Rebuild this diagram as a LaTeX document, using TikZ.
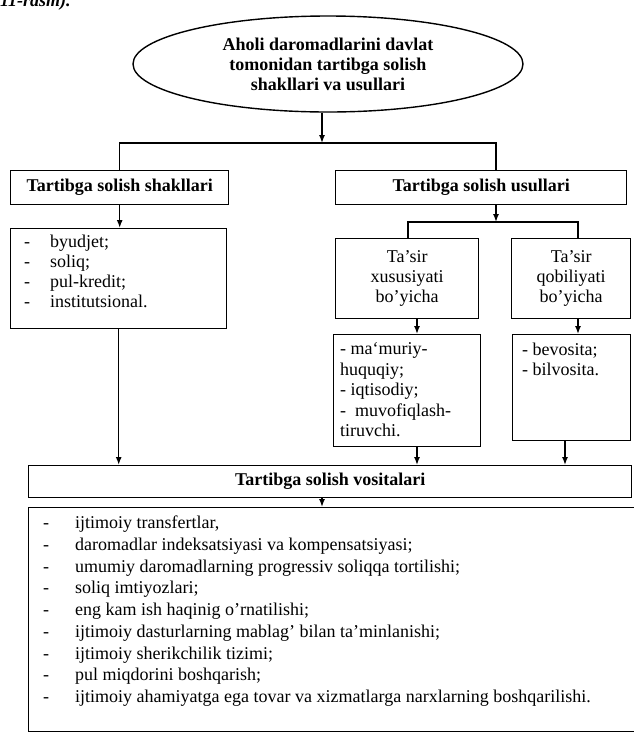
\documentclass[tikz,border=0pt]{standalone}
\usepackage{fontspec}
\setmainfont{Liberation Serif}
\usetikzlibrary{arrows.meta,shapes.geometric}

\newcommand{\kreska}[1]{\makebox[#1][l]{-}}

\begin{document}
\begin{tikzpicture}[x=1pt, y=-1pt,
    font=\fontsize{18}{20}\selectfont,
    ramka/.style={draw, line width=1.4pt, inner sep=0pt, anchor=north west},
    wykaz/.style={anchor=north west, align=left, inner sep=0pt},
    naglowek/.style={font=\bfseries\fontsize{18}{20}\selectfont},
    strz/.style={line width=1.4pt, -{Latex[length=8pt, width=6pt]}},
    linia/.style={line width=1.4pt}]
    \useasboundingbox (0,0) rectangle (633,732);

    % Podpis (ucięty)
    \node[anchor=base west, inner sep=0pt, font=\bfseries\itshape\fontsize{18}{20}\selectfont] (podpis) at (0,6) {11-rasm).};

    % Elipsa
    \node[draw, ellipse, line width=1.4pt, minimum width=390pt, minimum height=96pt, align=center,
          naglowek] (elipsa) at (328,64)
        {Aholi daromadlarini davlat\\tomonidan tartibga solish\\shakllari va usullari};

    % Formy i metody
    \node[ramka, minimum width=218pt, minimum height=34pt, naglowek] (shakl) at (10,170) {Tartibga solish shakllari};
    \node[ramka, minimum width=291pt, minimum height=34pt, naglowek] (usul) at (335,170) {Tartibga solish usullari};

    % Lewa kolumna
    \node[ramka, minimum width=216pt, minimum height=100pt] (byud) at (10,228) {};
    \node[wykaz] (byudtxt) at (24,234.6)
        {\kreska{26pt}byudjet;\\\kreska{26pt}soliq;\\\kreska{26pt}pul-kredit;\\\kreska{26pt}institutsional.};

    % Prawa kolumna
    \node[ramka, minimum width=143pt, minimum height=80pt, align=center] (tasir1) at (335,238) {Ta’sir\\xususiyati\\bo’yicha};
    \node[ramka, minimum width=119pt, minimum height=80pt, align=center] (tasir2) at (511,238) {Ta’sir\\qobiliyati\\bo’yicha};
    \node[ramka, minimum width=147pt, minimum height=112pt] (muw) at (333,334) {};
    \node[wykaz, font=\fontsize{18}{20.5}\selectfont] (muwtxt) at (340,342.6)
        {- ma‘muriy-\\huquqiy;\\- iqtisodiy;\\-\ \ muvofiqlash-\\tiruvchi.};
    \node[ramka, minimum width=118pt, minimum height=106pt] (bevo) at (512,334) {};
    \node[wykaz, font=\fontsize{18}{20.5}\selectfont] (bevotxt) at (522,342.6)
        {- bevosita;\\- bilvosita.};

    % Środki
    \node[ramka, minimum width=603pt, minimum height=32pt, naglowek] (vosit) at (28,465) {Tartibga solish vositalari};
    \node[ramka, minimum width=620pt, minimum height=224pt] (lista) at (28,507) {};
    \node[wykaz, font=\fontsize{18}{21.75}\selectfont] (listatxt) at (43,515.7)
        {\kreska{32pt}ijtimoiy transfertlar,\\
         \kreska{32pt}daromadlar indeksatsiyasi va kompensatsiyasi;\\
         \kreska{32pt}umumiy daromadlarning progressiv soliqqa tortilishi;\\
         \kreska{32pt}soliq imtiyozlari;\\
         \kreska{32pt}eng kam ish haqinig o’rnatilishi;\\
         \kreska{32pt}ijtimoiy dasturlarning mablag’ bilan ta’minlanishi;\\
         \kreska{32pt}ijtimoiy sherikchilik tizimi;\\
         \kreska{32pt}pul miqdorini boshqarish;\\
         \kreska{32pt}ijtimoiy ahamiyatga ega tovar va xizmatlarga narxlarning boshqarilishi.};

    % Punkty węzłowe
    \coordinate (j1) at (322,143);
    \coordinate (u1) at (496,143);
    \coordinate (j2) at (496,222);
    \coordinate (j2a) at (408,222);
    \coordinate (j2b) at (578,222);
    \coordinate (k1) at (417,0);
    \coordinate (k2) at (578,0);
    \coordinate (k3) at (565,0);

    % Połączenia
    \draw[strz] (elipsa.south -| j1) -- (j1);
    \draw[linia] (shakl.north) |- (u1) -- (u1 |- usul.north);
    \draw[strz] (shakl.south) -- (shakl.south |- byud.north);
    \draw[strz] (usul.south -| j2) -- (j2);
    \draw[linia] (j2a |- tasir1.north) |- (j2b) -- (j2b |- tasir2.north);
    \draw[strz] (tasir1.south -| k1) -- (muw.north -| k1);
    \draw[strz] (tasir2.south -| k2) -- (bevo.north -| k2);
    \draw[strz] (byud.south) -- (byud.south |- vosit.north);
    \draw[strz] (muw.south -| k1) -- (vosit.north -| k1);
    \draw[strz] (bevo.south -| k3) -- (vosit.north -| k3);
    \draw[strz] (vosit.south -| j1) -- (lista.north -| j1);
\end{tikzpicture}
\end{document}
